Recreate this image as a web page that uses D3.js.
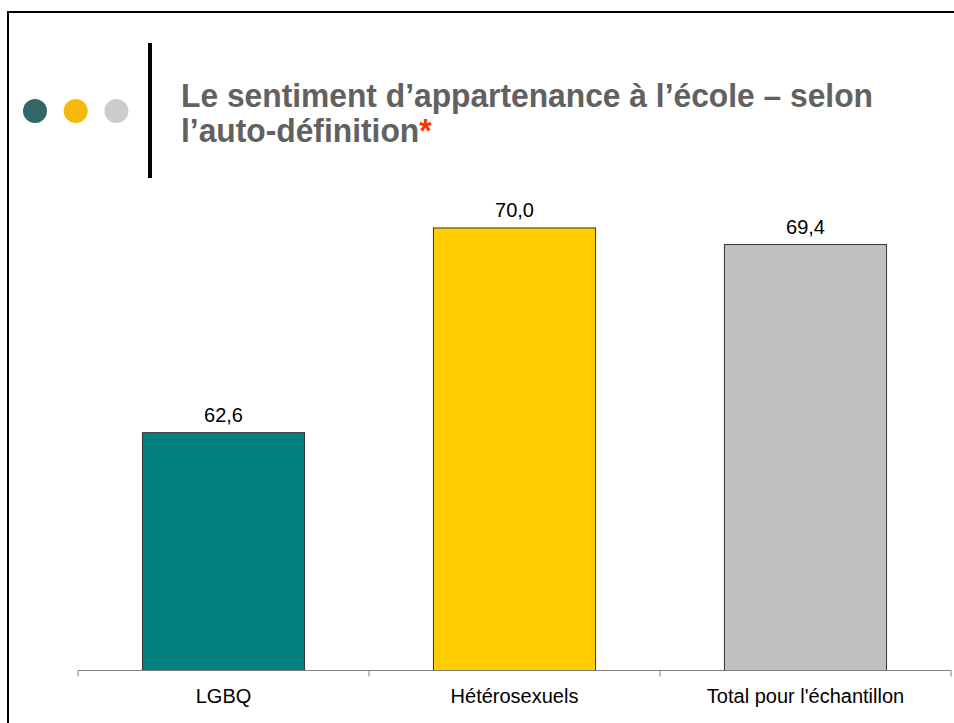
<!DOCTYPE html>
<html>
<head>
<meta charset="utf-8">
<script src="https://cdn.jsdelivr.net/npm/d3@7"></script>
<style>
  body { margin: 0; background: #fff; }
  svg { display: block; }
</style>
</head>
<body>
<div id="chart"></div>
<script>
// data
var categories = ["LGBQ", "Hétérosexuels", "Total pour l'échantillon"];
var values = [62.6, 70.0, 69.4];
var barColors = ["#008080", "#FFCC00", "#C0C0C0"];
var dotColors = ["#336666", "#F5B80C", "#CCCCCC"];
var titleLines = ["Le sentiment d\u2019appartenance à l\u2019école \u2013 selon", "l\u2019auto-définition"];

var W = 954, H = 723;
var svg = d3.select("#chart").append("svg").attr("width", W).attr("height", H);

// slide frame
svg.append("rect").attr("x", 8).attr("y", 12).attr("width", 1000).attr("height", 1000)
  .attr("fill", "none").attr("stroke", "#000").attr("stroke-width", 2);

// decoration dots + bar
svg.selectAll(".dot").data(dotColors).enter().append("circle")
  .attr("cx", function(d, i) { return 35 + i * 40.7; })
  .attr("cy", 111).attr("r", 12).attr("fill", function(d) { return d; });
svg.append("rect").attr("x", 148).attr("y", 43).attr("width", 4).attr("height", 135).attr("fill", "#000");

// title
var t1 = svg.append("text").attr("x", 181).attr("y", 107)
  .style("font-family", "'Liberation Sans Narrow', 'Arial Narrow', 'Liberation Sans', Arial, sans-serif")
  .style("font-weight", "bold").style("font-size", "34px").attr("fill", "#616161")
  .text(titleLines[0]);
var w1 = t1.node().getComputedTextLength();
var sx = 692 / w1;
if (Math.abs(sx - 1) > 0.02) t1.attr("textLength", 692).attr("lengthAdjust", "spacingAndGlyphs");
var t2 = svg.append("text").attr("x", 181).attr("y", 142)
  .style("font-family", "'Liberation Sans Narrow', 'Arial Narrow', 'Liberation Sans', Arial, sans-serif")
  .style("font-weight", "bold").style("font-size", "34px").attr("fill", "#616161");
t2.append("tspan").text(titleLines[1]);
t2.append("tspan").attr("fill", "#FF3300").text("*");
if (Math.abs(sx - 1) > 0.02) {
  var w2 = t2.node().getComputedTextLength();
  t2.attr("textLength", w2 * sx).attr("lengthAdjust", "spacingAndGlyphs");
}

// scales
var x = d3.scaleBand().domain(categories).range([78, 951]).paddingInner(0.443).paddingOuter(0.2215);
var y = d3.scaleLinear().domain([54, 72]).range([670.5, 670.5 - 18 * 27.66]);

// bars
svg.selectAll(".bar").data(values).enter().append("rect")
  .attr("x", function(d, i) { return x(categories[i]); })
  .attr("y", function(d) { return y(d); })
  .attr("width", x.bandwidth())
  .attr("height", function(d) { return y(54) - y(d); })
  .attr("fill", function(d, i) { return barColors[i]; })
  .attr("stroke", "#333").attr("stroke-width", 1);

// value labels
svg.selectAll(".val").data(values).enter().append("text")
  .attr("x", function(d, i) { return x(categories[i]) + x.bandwidth() / 2; })
  .attr("y", function(d) { return y(d) - 11; })
  .attr("text-anchor", "middle")
  .style("font-family", "'Liberation Sans', Arial, sans-serif").style("font-size", "20px")
  .attr("fill", "#000")
  .text(function(d) { return d.toFixed(1).replace(".", ","); });

// x axis
var axis = svg.append("g").attr("transform", "translate(0," + y(54) + ")")
  .call(d3.axisBottom(x).tickSize(0).tickPadding(18));
axis.select(".domain").attr("stroke", "#808080").attr("d", "M78,0H951");
axis.selectAll("text").style("font-family", "'Liberation Sans', Arial, sans-serif")
  .style("font-size", "20px").attr("fill", "#000").attr("dy", "0.71em");
var bounds = d3.range(categories.length + 1).map(function(i) { return 78 + i * x.step(); });
axis.selectAll(".bound").data(bounds).enter().append("line")
  .attr("x1", function(d) { return d; }).attr("x2", function(d) { return d; })
  .attr("y1", 0).attr("y2", 6).attr("stroke", "#808080");
</script>
</body>
</html>
